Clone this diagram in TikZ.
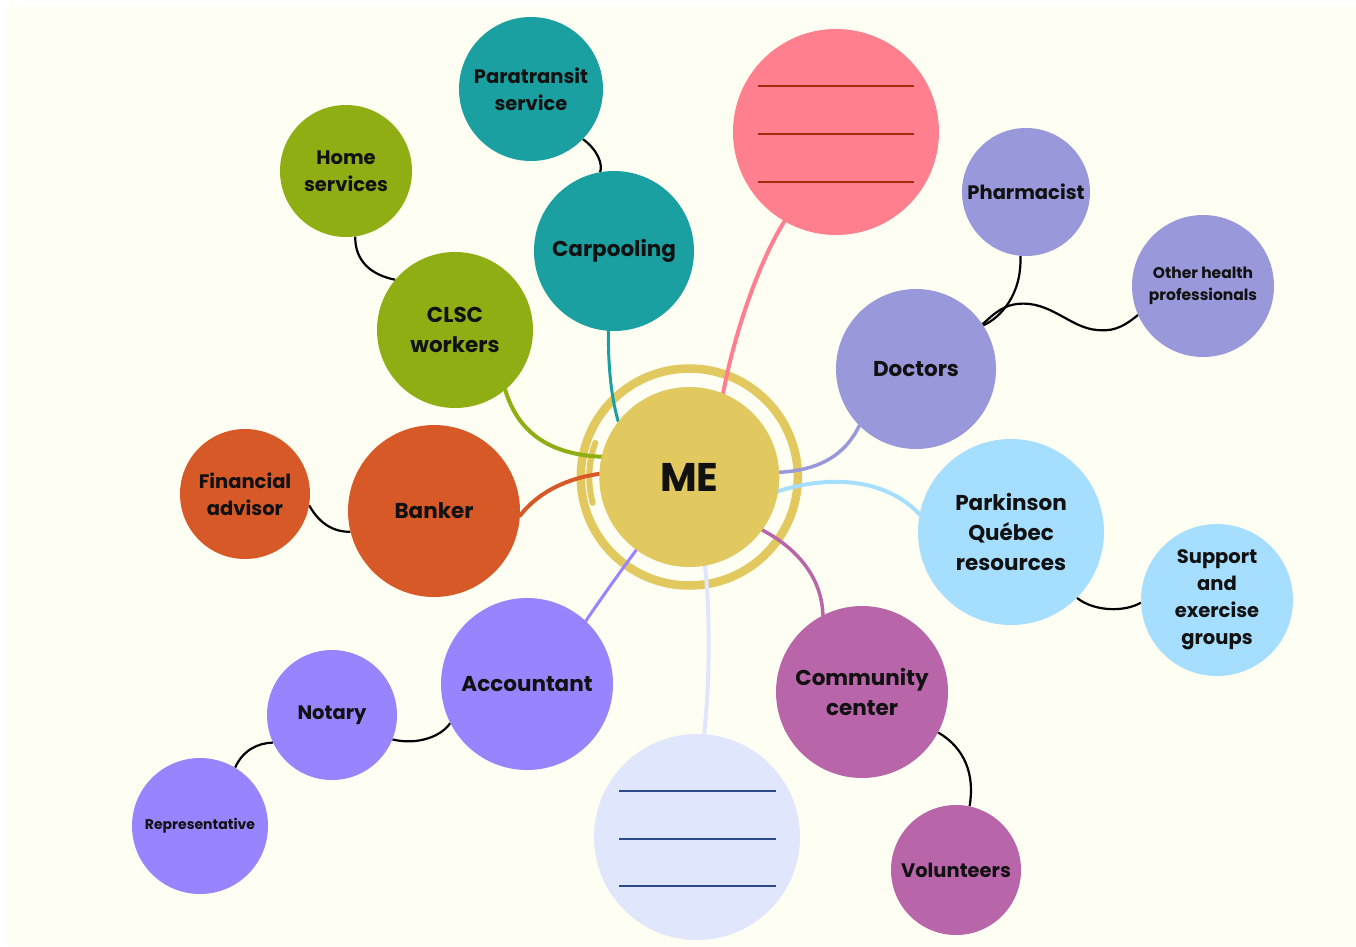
\documentclass[tikz,border=0pt]{standalone}
\usepackage{fontspec}
\setmainfont{Poppins}
\usetikzlibrary{backgrounds}
\definecolor{bgc}{HTML}{FEFEF2}
\definecolor{mec}{HTML}{E2C95F}
\definecolor{pinkc}{HTML}{FF7F8E}
\definecolor{pinkl}{HTML}{A32A0C}
\definecolor{lavc}{HTML}{E0E6FC}
\definecolor{lavl}{HTML}{2A4A8C}
\definecolor{tealc}{HTML}{1AA0A0}
\definecolor{olivec}{HTML}{8FAE14}
\definecolor{orangec}{HTML}{D85928}
\definecolor{docc}{HTML}{9898DA}
\definecolor{bluec}{HTML}{A6DEFF}
\definecolor{violc}{HTML}{9984FF}
\definecolor{magc}{HTML}{B965AA}
\definecolor{txt}{HTML}{111111}
\tikzset{
  bub/.style={circle, inner sep=0pt, align=center, text=txt, minimum size=#1},
  fA/.style={font=\fontsize{21.5}{30}\selectfont\bfseries},
  fB/.style={font=\fontsize{19.5}{27}\selectfont\bfseries},
  fC/.style={font=\fontsize{15.5}{22}\selectfont\bfseries},
  fD/.style={font=\fontsize{14}{20}\selectfont\bfseries},
  link/.style={line width=4pt, line cap=round},
  blink/.style={line width=2.2pt, black},
  pline/.style={line width=1.6pt, pinkl},
  lline/.style={line width=1.6pt, lavl},
}
\begin{document}
\begin{tikzpicture}[x=1pt,y=-1pt]
\useasboundingbox (0,0) rectangle (1356,946);
% nodes
\node[bub=180pt, fill=mec, font=\fontsize{40}{44}\selectfont\bfseries] (me) at (689.3,477) {ME};
\node[bub=144pt, fill=tealc, fB] (para) at (531,89) {Paratransit\\service};
\node[bub=132pt, fill=olivec, fB] (home) at (346,171) {Home\\services};
\node[bub=160pt, fill=tealc, fA] (carp) at (614,251) {Carpooling};
\node[bub=156pt, fill=olivec, fA] (clsc) at (455,330) {CLSC\\workers};
\node[bub=206pt, fill=pinkc] (pink) at (836,132) {};
\node[bub=128pt, fill=docc, fB] (pharm) at (1026,192) {Pharmacist};
\node[bub=142pt, fill=docc, fC] (other) at (1203,286) {Other health\\professionals};
\node[bub=160pt, fill=docc, fA] (doc) at (916,369) {Doctors};
\node[bub=186pt, fill=bluec, fA] (park) at (1011,532) {Parkinson\\Québec\\resources};
\node[bub=152pt, fill=bluec, fB] (supp) at (1217,600) {Support\\and\\exercise\\groups};
\node[bub=130pt, fill=orangec, fB] (fin) at (245,494) {Financial\\advisor};
\node[bub=172pt, fill=orangec, fA] (bank) at (434,511) {Banker};
\node[bub=172pt, fill=violc, fA] (acc) at (527,684) {Accountant};
\node[bub=130pt, fill=violc, fB] (not) at (332,715) {Notary};
\node[bub=136pt, fill=violc, fD] (rep) at (200,826) {Representative};
\node[bub=206pt, fill=lavc] (lav) at (697,837) {};
\node[bub=172pt, fill=magc, fA] (comm) at (862,692) {Community\\center};
\node[bub=130pt, fill=magc, fB] (vol) at (956,870) {Volunteers};
% lines in blank bubbles
\draw[pline] (758,86) -- (914,86);
\draw[pline] (758,134) -- (914,134);
\draw[pline] (758,182) -- (914,182);
\draw[lline] (619,791) -- (776,791);
\draw[lline] (619,839) -- (776,839);
\draw[lline] (619,886) -- (776,886);
\begin{scope}[on background layer]
\fill[bgc] (7,7) rectangle (1356,946);
\draw[mec, line width=8.5pt] (me.center) circle[radius=108.5];
\draw[mec, line width=6pt, line cap=round] (595.3,442.8) arc[start angle=-160, end angle=-195, radius=100];
% coloured links
\draw[link, tealc, line width=3pt] (carp.266) .. controls (608,370) and (612,400) .. (me.142);
\draw[link, pinkc] (pink.240) .. controls (760,260) and (735,330) .. (me.68);
\draw[link, olivec] (clsc.-50) .. controls (520,440) and (560,455) .. (me.167);
\draw[link, orangec] (bank.-3) .. controls (540,490) and (570,478) .. (me.178);
\draw[link, violc, line width=3pt] (acc.47) .. controls (600,600) and (620,572) .. (me.234);
\draw[link, lavc] (lav.86) .. controls (710,680) and (710,610) .. (me.-80);
\draw[link, magc, line width=3.5pt] (me.-36) .. controls (800,550) and (822,580) .. (comm.117);
\draw[link, bluec] (me.-9) .. controls (830,475) and (885,478) .. (park.169);
\draw[link, docc, line width=3.5pt] (me.3) .. controls (820,470) and (845,455) .. (doc.225);
% black links
\draw[blink] (para.-44) .. controls (598,150) and (603,165) .. (carp.100);
\draw[blink] (home.-82) .. controls (355,262) and (372,275) .. (clsc.140);
\draw[blink] (pharm.-95) .. controls (1022,295) and (1000,318) .. (doc.33);
\draw[blink] (other.204) .. controls (1120,330) and (1110,331) .. (1097,330)
   .. controls (1070,328) and (1050,300) .. (1017,304)
   .. controls (1000,306) and (990,318) .. (doc.34);
\draw[blink] (fin.-10) .. controls (320,525) and (335,532) .. (bank.194);
\draw[blink] (not.-22) .. controls (415,745) and (440,738) .. (acc.207);
\draw[blink] (rep.59) .. controls (243,750) and (258,743) .. (not.205);
\draw[blink] (park.-45) .. controls (1095,612) and (1125,612) .. (supp.182);
\draw[blink] (comm.-28) .. controls (965,748) and (975,775) .. (vol.78);
\end{scope}
\end{tikzpicture}
\end{document}
